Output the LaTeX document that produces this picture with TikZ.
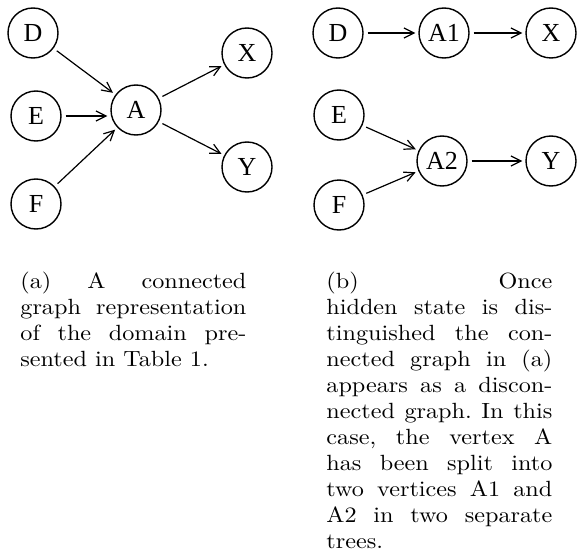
\documentclass[tikz,border=0pt]{standalone}
\usepackage{fontspec}
\newfontfamily\vertexfont{Liberation Serif}
\newfontfamily\captionfont[FakeStretch=1.1]{Latin Modern Roman}
\usetikzlibrary{arrows.meta}
\tikzset{
  >={Straight Barb[length=5pt,width=5pt]},
  vertex/.style={
    circle,
    draw,
    line width=0.7pt,
    minimum size=25pt,
    inner sep=0pt,
    font=\vertexfont\fontsize{13}{15}\selectfont
  },
  edge/.style={
    ->,
    line width=0.6pt,
    shorten <=2pt,
    shorten >=1.5pt
  },
  caption text/.style={
    anchor=north west,
    inner sep=0pt,
    text width=113pt,
    align=justify,
    font=\captionfont\fontsize{11}{13}\selectfont\frenchspacing
  }
}

\begin{document}
\begin{tikzpicture}[x=0.5pt,y=-0.5pt]
  \useasboundingbox (0,0) rectangle (577,556);

  % (a) one connected graph
  \node[vertex] (a-D) at (33,33) {D};
  \node[vertex] (a-E) at (36,116) {E};
  \node[vertex] (a-F) at (36,204) {F};
  \node[vertex] (a-A) at (136,110) {A};
  \node[vertex] (a-X) at (247,53) {X};
  \node[vertex] (a-Y) at (247,167) {Y};

  \foreach \s/\t in {D/A,F/A,A/X,A/Y}{
    \draw[edge] (a-\s) -- (a-\t);
  }
  \draw[edge] (a-E) -- (a-E -| a-A.west);

  % (b) two separate trees
  \node[vertex] (b-D) at (338,33) {D};
  \node[vertex] (b-A1) at (444,33) {A1};
  \node[vertex] (b-X) at (551,33) {X};
  \node[vertex] (b-E) at (339,115) {E};
  \node[vertex] (b-F) at (339,205) {F};
  \node[vertex] (b-A2) at (442,161) {A2};
  \node[vertex] (b-Y) at (551,161) {Y};

  \foreach \s/\t in {D/A1,A1/X,E/A2,F/A2,A2/Y}{
    \draw[edge] (b-\s) -- (b-\t);
  }

  % captions
  \node[caption text] (cap-a) at (20,272) {(a) A connected\linebreak
    graph representation\linebreak
    of the domain pre-\linebreak
    sented in Table 1.};
  \node[caption text] (cap-b) at (326,272) {(b) Once\linebreak
    hidden state is dis-\linebreak
    tinguished the con-\linebreak
    nected graph in (a)\linebreak
    appears as a discon-\linebreak
    nected graph. In this\linebreak
    case, the vertex A\linebreak
    has been split into\linebreak
    two vertices A1 and\linebreak
    A2 in two separate\linebreak
    trees.};
\end{tikzpicture}
\end{document}
